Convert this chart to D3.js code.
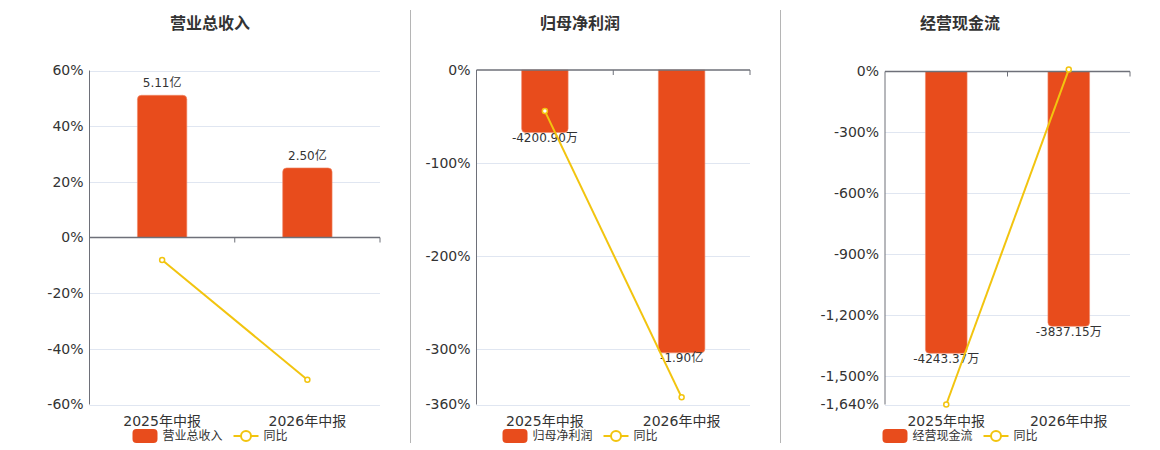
<!DOCTYPE html>
<html>
<head>
<meta charset="utf-8">
<script src="https://cdn.jsdelivr.net/npm/d3@7"></script>
<style>
html,body{margin:0;padding:0;background:#fff;}
svg{display:block;font-family:"DejaVu Sans","Noto Sans CJK SC",sans-serif;}
</style>
</head>
<body>
<svg id="chart" width="1160" height="450"></svg>
<script>
// ---- data ----
const categories = ["2025年中报", "2026年中报"];
const titles = ["营业总收入", "归母净利润", "经营现金流"];
const barNames = ["营业总收入", "归母净利润", "经营现金流"];
const lineName = "同比";
// bar values in 万元
const revenueValues = [51100, 25000];
const profitValues = [-4200.90, -19000];
const cashflowValues = [-4243.37, -3837.15];
const revenueLabels = ["5.11亿", "2.50亿"];
const profitLabels = ["-4200.90万", "-1.90亿"];
const cashflowLabels = ["-4243.37万", "-3837.15万"];
// YoY %
const revenueYoY = [-8.1, -51.1];
const profitYoY = [-44.2, -352.3];
const cashflowYoY = [-1640, 9.57];
// tick labels
const revenueTicks = [60, 40, 20, 0, -20, -40, -60];
const profitTicks = [0, -100, -200, -300, -360];
const cashflowTicks = [0, -300, -600, -900, -1200, -1500, -1640];

const BAR = "#e84c1c", LINE = "#f2c40f", AXIS = "#6e7079", GRID = "#e0e6f1", TXT = "#333";

const panels = [
  {title: titles[0], name: barNames[0], bars: revenueValues, labels: revenueLabels, yoy: revenueYoY, ticks: revenueTicks,
   yDom: [-60, 60], bDom: [-60000, 60000], left: 89.5, right: 380, top: 70.5, bottom: 404.5, center: 210},
  {title: titles[1], name: barNames[1], bars: profitValues, labels: profitLabels, yoy: profitYoY, ticks: profitTicks,
   yDom: [-360, 0], bDom: [-22470, 0], left: 476.5, right: 750, top: 70, bottom: 404.5, center: 580},
  {title: titles[2], name: barNames[2], bars: cashflowValues, labels: cashflowLabels, yoy: cashflowYoY, ticks: cashflowTicks,
   yDom: [-1640, 0], bDom: [-5014, 0], left: 885, right: 1130, top: 71.5, bottom: 404.5, center: 960}
];

const svg = d3.select("#chart");

// dividers
[410.5, 780.5].forEach(x => {
  svg.append("line").attr("x1", x).attr("x2", x).attr("y1", 10).attr("y2", 443)
    .attr("stroke", "#b5b5b5").attr("stroke-width", 1);
});

const fmtBase = d3.format(",");
const fmt = v => fmtBase(v).replace("\u2212", "-");

panels.forEach(p => {
  const g = svg.append("g");
  const x = d3.scaleBand().domain(categories).range([p.left, p.right]).paddingInner(0).paddingOuter(0);
  const y = d3.scaleLinear().domain(p.yDom).range([p.bottom, p.top]);
  const yb = d3.scaleLinear().domain(p.bDom).range([p.bottom, p.top]);
  const y0 = y(0);

  // title
  g.append("text").attr("x", p.center).attr("y", 29).attr("text-anchor", "middle")
    .attr("font-size", 16).attr("font-weight", "bold").attr("fill", TXT).text(p.title);

  // grid
  g.selectAll(".grid").data(p.ticks.filter(t => t !== 0)).join("line")
    .attr("x1", p.left).attr("x2", p.right)
    .attr("y1", d => Math.round(y(d)) + 0.5).attr("y2", d => Math.round(y(d)) + 0.5)
    .attr("stroke", GRID).attr("stroke-width", 1);

  // y tick labels
  g.selectAll(".yl").data(p.ticks).join("text")
    .attr("x", p.left - 6).attr("y", d => y(d)).attr("dy", "0.35em")
    .attr("text-anchor", "end").attr("font-size", 14).attr("fill", TXT)
    .text(d => fmt(d) + "%");

  // y axis line
  g.append("line").attr("x1", p.left).attr("x2", p.left).attr("y1", p.top).attr("y2", p.bottom)
    .attr("stroke", AXIS).attr("stroke-width", 1);

  // bars
  const bw = x.bandwidth() * 0.34;
  const r = 4;
  g.selectAll(".bar").data(p.bars).join("path")
    .attr("d", (d, i) => {
      const cx = x(categories[i]) + x.bandwidth() / 2;
      const x0 = cx - bw / 2, x1 = cx + bw / 2;
      const yv = yb(d);
      if (d >= 0) {
        return `M${x0},${y0} L${x0},${yv + r} Q${x0},${yv} ${x0 + r},${yv} L${x1 - r},${yv} Q${x1},${yv} ${x1},${yv + r} L${x1},${y0} Z`;
      } else {
        return `M${x0},${y0} L${x0},${yv - r} Q${x0},${yv} ${x0 + r},${yv} L${x1 - r},${yv} Q${x1},${yv} ${x1},${yv - r} L${x1},${y0} Z`;
      }
    })
    .attr("fill", BAR).attr("stroke", "#f08a6a").attr("stroke-width", 0.6);

  // zero axis line + ticks
  g.append("line").attr("x1", p.left).attr("x2", p.right).attr("y1", y0).attr("y2", y0)
    .attr("stroke", AXIS).attr("stroke-width", 1.6);
  const bounds = [x(categories[1]), p.right];
  g.selectAll(".xt").data(bounds).join("line")
    .attr("x1", d => d).attr("x2", d => d).attr("y1", y0).attr("y2", y0 + 5)
    .attr("stroke", AXIS).attr("stroke-width", 1);

  // category labels
  g.selectAll(".xl").data(categories).join("text")
    .attr("x", d => x(d) + x.bandwidth() / 2).attr("y", 421).attr("dy", "0.35em")
    .attr("text-anchor", "middle").attr("font-size", 14).attr("fill", TXT).text(d => d);

  // bar labels
  g.selectAll(".bl").data(p.bars).join("text")
    .attr("x", (d, i) => x(categories[i]) + x.bandwidth() / 2)
    .attr("y", d => d >= 0 ? yb(d) - 12 : yb(d) + 5)
    .attr("dy", "0.35em")
    .attr("text-anchor", "middle").attr("font-size", 12).attr("fill", TXT)
    .text((d, i) => p.labels[i]);

  // line
  const line = d3.line().x((d, i) => x(categories[i]) + x.bandwidth() / 2).y(d => y(d));
  g.append("path").datum(p.yoy).attr("d", line).attr("fill", "none")
    .attr("stroke", LINE).attr("stroke-width", 2);
  g.selectAll(".pt").data(p.yoy).join("circle")
    .attr("cx", (d, i) => x(categories[i]) + x.bandwidth() / 2).attr("cy", d => y(d))
    .attr("r", 2.5).attr("fill", "#fff").attr("stroke", LINE).attr("stroke-width", 1.5);

  // legend
  const lg = g.append("g");
  const nameW = p.name.length * 12;
  const totalW = 25 + 5 + nameW + 11 + 25 + 5 + 24;
  let lx = p.center - totalW / 2;
  const ly = 436;
  lg.append("rect").attr("x", lx).attr("y", ly - 7).attr("width", 25).attr("height", 14)
    .attr("rx", 4).attr("fill", BAR);
  lx += 30;
  lg.append("text").attr("x", lx).attr("y", ly).attr("dy", "0.35em").attr("font-size", 12)
    .attr("fill", TXT).text(p.name);
  lx += nameW + 11;
  lg.append("line").attr("x1", lx).attr("x2", lx + 25).attr("y1", ly).attr("y2", ly)
    .attr("stroke", LINE).attr("stroke-width", 2);
  lg.append("circle").attr("cx", lx + 12.5).attr("cy", ly).attr("r", 5)
    .attr("fill", "#fff").attr("stroke", LINE).attr("stroke-width", 2);
  lx += 30;
  lg.append("text").attr("x", lx).attr("y", ly).attr("dy", "0.35em").attr("font-size", 12)
    .attr("fill", TXT).text(lineName);
});
</script>
</body>
</html>
